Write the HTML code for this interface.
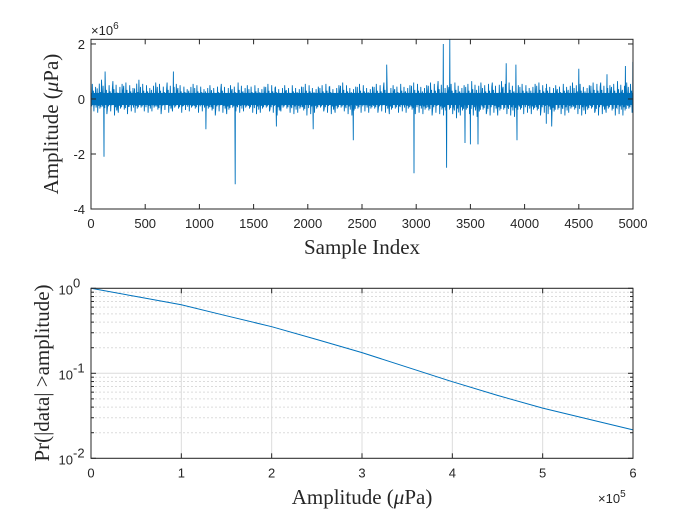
<!DOCTYPE html>
<html><head><meta charset="utf-8">
<style>
html,body{margin:0;padding:0;background:#fff;}
svg{display:block;}
.tick{font-family:"Liberation Sans",sans-serif;font-size:13px;fill:#262626;}
.lab{font-family:"Liberation Serif",serif;font-size:21px;fill:#262626;}
</style></head>
<body>
<svg id="fig" width="700" height="525" viewBox="0 0 700 525">
<rect x="0" y="0" width="700" height="525" fill="#fff"/>
<g id="top"></g>
<g id="bot"></g>
</svg>
<script>
// ---- top chart data (binned envelope of 5000 samples, 100 bins of 50) ----
const binHi = [0.55,0.7,0.6,0.5,0.65,0.55,0.6,0.5,0.7,0.55,0.5,0.6,0.55,0.45,0.6,0.55,0.5,0.45,0.55,0.5,
0.45,0.5,0.4,0.45,0.55,0.5,0.45,0.6,0.5,0.45,0.5,0.45,0.55,0.5,0.45,0.5,0.4,0.5,0.45,0.55,
0.5,0.45,0.5,0.55,0.45,0.5,0.6,0.5,0.45,0.55,0.5,0.45,0.55,0.5,0.6,0.5,0.45,0.55,0.5,0.6,
0.55,0.5,0.6,0.55,0.65,0.5,0.55,0.6,0.5,0.55,0.65,0.6,0.5,0.55,0.6,0.65,0.55,0.6,0.5,0.55,
0.5,0.55,0.6,0.5,0.55,0.5,0.45,0.55,0.6,0.5,0.55,0.5,0.6,0.55,0.6,0.5,0.55,0.65,0.6,0.55];
const binLo = [-0.45,-0.5,-0.55,-0.45,-0.6,-0.5,-0.55,-0.45,-0.5,-0.45,-0.5,-0.45,-0.55,-0.4,-0.5,-0.45,-0.5,-0.4,-0.45,-0.5,
-0.45,-0.5,-0.6,-0.45,-0.5,-0.55,-0.45,-0.5,-0.45,-0.5,-0.55,-0.5,-0.45,-0.5,-0.6,-0.45,-0.5,-0.55,-0.5,-0.6,
-0.55,-0.5,-0.45,-0.5,-0.55,-0.5,-0.45,-0.55,-0.6,-0.5,-0.45,-0.5,-0.5,-0.45,-0.5,-0.55,-0.5,-0.45,-0.5,-0.55,
-0.5,-0.55,-0.6,-0.5,-0.55,-0.6,-0.55,-0.7,-0.6,-0.55,-0.6,-0.65,-0.55,-0.6,-0.5,-0.6,-0.55,-0.6,-0.65,-0.55,
-0.5,-0.55,-0.6,-0.5,-0.55,-0.65,-0.55,-0.6,-0.5,-0.55,-0.6,-0.55,-0.5,-0.6,-0.55,-0.5,-0.6,-0.55,-0.6,-0.5];
const spikeIdx = [120,130,760,1060,1330,1710,2050,2420,2728,2980,3250,3280,3310,3450,3500,3570,3830,3920,3930,4200,4250,4500,4760,4930,4998];
const spikeVal = [-2.1,1.0,1.0,-1.1,-3.1,-1.0,-1.1,-1.5,1.25,-2.7,2.0,-2.5,2.17,-1.6,-1.65,-1.65,1.3,1.25,-1.5,-0.9,-1.0,1.1,0.9,1.2,1.35];
const topXTicks = [0,500,1000,1500,2000,2500,3000,3500,4000,4500,5000];
const topYTicks = [-4,-2,0,2];
// ---- bottom chart data ----
const ampX = [0,0.5,1,1.5,2,2.5,3,3.5,4,4.5,5,5.5,6];
const probY = [1,0.8,0.64,0.475,0.353,0.25,0.175,0.118,0.0796,0.055,0.039,0.029,0.0216];
const botXTicks = [0,1,2,3,4,5,6];
const botYExp = [0,-1,-2];

const NS='http://www.w3.org/2000/svg';
function mk(parent,tag,attrs,text){const e=document.createElementNS(NS,tag);for(const k in attrs)e.setAttribute(k,attrs[k]);if(text!==undefined)e.textContent=text;parent.appendChild(e);return e;}

const L=91,R=633;
// ---------- top ----------
const tg=document.getElementById('top');
const tT=39.3,tB=209,yMin=-4,yMax=2.17;
const tx=v=>L+(v/5000)*(R-L);
const ty=v=>tB-(v-yMin)/(yMax-yMin)*(tB-tT);
const fac=[0.35,-0.6,1,-0.3,0.55,-1,0.25,-0.5,0.8,-0.7];
let raw=[];
for(let i=0;i<binHi.length;i++){
  for(let k=0;k<10;k++){
    const s=i*50+k*5+2;
    const f=fac[(k+i*3)%10];
    raw.push([s,f>0?binHi[i]*f:-binLo[i]*f]);
  }
}
for(let j=0;j<spikeIdx.length;j++){raw.push([spikeIdx[j],spikeVal[j]]);}
raw.sort((a,b)=>a[0]-b[0]);
const pts=raw.map(p=>tx(p[0]).toFixed(1)+','+ty(p[1]).toFixed(1));
const core=mk(tg,'rect',{x:L,y:ty(0.22),width:R-L,height:ty(-0.22)-ty(0.22),fill:'#0072BD'});


const band=mk(tg,'polyline',{points:pts.join(' '),fill:'none',stroke:'#0072BD','stroke-width':0.9});


mk(tg,'rect',{x:L,y:tT,width:R-L,height:tB-tT,fill:'none',stroke:'#262626','stroke-width':1});
topXTicks.forEach(v=>{
  const x=tx(v);
  mk(tg,'line',{x1:x,x2:x,y1:tB,y2:tB-5,stroke:'#262626'});
  mk(tg,'line',{x1:x,x2:x,y1:tT,y2:tT+5,stroke:'#262626'});
  const t=mk(tg,'text',{x:x,y:tB+19,'text-anchor':'middle',class:'tick'},String(v));
  
  
});
topYTicks.forEach(v=>{
  const y=ty(v);
  mk(tg,'line',{x1:L,x2:L+5,y1:y,y2:y,stroke:'#262626'});
  mk(tg,'line',{x1:R,x2:R-5,y1:y,y2:y,stroke:'#262626'});
  const t=mk(tg,'text',{x:L-6,y:y+5,'text-anchor':'end',class:'tick'},v<0?'-'+(-v):String(v));
  
  
});
// ---------- bottom ----------
const bg=document.getElementById('bot');
const bT=288.3,bBo=458.3;
const bx=v=>L+(v/6)*(R-L);
const by=v=>bT+(-Math.log10(v))/2*(bBo-bT);
for(let d=0;d<2;d++)for(let m=2;m<=9;m++){
  const y=by(m*Math.pow(10,-d-1));
  mk(bg,'line',{x1:L,x2:R,y1:y,y2:y,stroke:'#dcdcdc','stroke-dasharray':'2,2'});
  mk(bg,'line',{x1:L,x2:L+3,y1:y,y2:y,stroke:'#262626'});
  mk(bg,'line',{x1:R,x2:R-3,y1:y,y2:y,stroke:'#262626'});
}
botYExp.forEach(e=>{
  const y=by(Math.pow(10,e));
  mk(bg,'line',{x1:L,x2:R,y1:y,y2:y,stroke:'#dcdcdc'});
  mk(bg,'line',{x1:L,x2:L+5,y1:y,y2:y,stroke:'#262626'});
  mk(bg,'line',{x1:R,x2:R-5,y1:y,y2:y,stroke:'#262626'});
  const t=mk(bg,'text',{x:L-18,y:y+6,'text-anchor':'end',class:'tick'},'10');
  
  
  mk(bg,'text',{x:L-18,y:y-1,'text-anchor':'start',class:'tick','font-size':'10'},String(e));
});
botXTicks.forEach(v=>{
  const x=bx(v);
  mk(bg,'line',{x1:x,x2:x,y1:bT,y2:bBo,stroke:'#dcdcdc'});
  mk(bg,'line',{x1:x,x2:x,y1:bBo,y2:bBo-5,stroke:'#262626'});
  mk(bg,'line',{x1:x,x2:x,y1:bT,y2:bT+5,stroke:'#262626'});
  const t=mk(bg,'text',{x:x,y:bBo+19,'text-anchor':'middle',class:'tick'},String(v));
  
  
});
const cl=mk(bg,'polyline',{points:ampX.map((a,i)=>bx(a).toFixed(1)+','+by(probY[i]).toFixed(1)).join(' '),fill:'none',stroke:'#0072BD','stroke-width':1});


mk(bg,'rect',{x:L,y:bT,width:R-L,height:bBo-bT,fill:'none',stroke:'#262626','stroke-width':1});
</script>
<div style="position:absolute;left:0;top:0;width:700px;height:525px;pointer-events:none;">
<svg width="700" height="525" style="position:absolute;left:0;top:0">
<text x="91" y="35" class="tick">×10<tspan font-size="10" dy="-6">6</tspan></text>
<text x="362" y="254" text-anchor="middle" class="lab">Sample Index</text>
<text transform="translate(58,124) rotate(-90)" text-anchor="middle" class="lab">Amplitude (<tspan font-style="italic">μ</tspan>Pa)</text>
<text x="362" y="504" text-anchor="middle" class="lab">Amplitude (<tspan font-style="italic">μ</tspan>Pa)</text>
<text x="598" y="503" class="tick">×10<tspan font-size="10" dy="-6">5</tspan></text>
<text transform="translate(49,373) rotate(-90)" text-anchor="middle" class="lab">Pr(|data| &gt;amplitude)</text>
</svg>
</div>
</body></html>
